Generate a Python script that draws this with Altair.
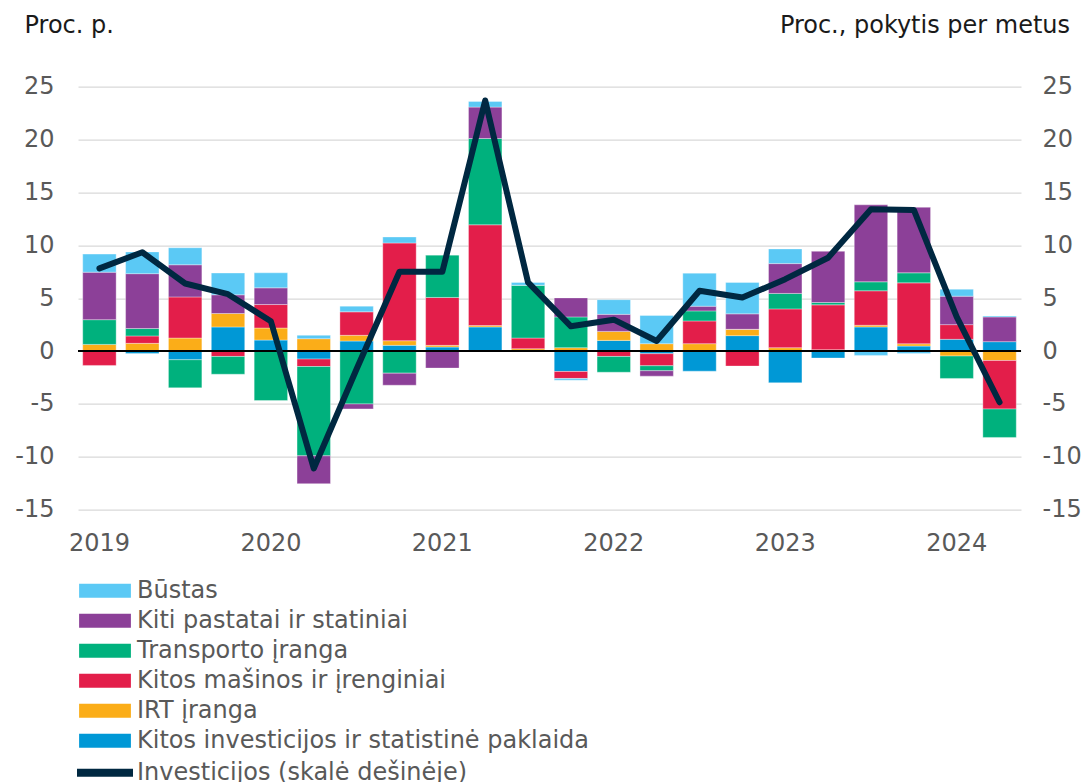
import altair as alt
import pandas as pd

quarters = ["2019Q1", "2019Q2", "2019Q3", "2019Q4",
            "2020Q1", "2020Q2", "2020Q3", "2020Q4",
            "2021Q1", "2021Q2", "2021Q3", "2021Q4",
            "2022Q1", "2022Q2", "2022Q3", "2022Q4",
            "2023Q1", "2023Q2", "2023Q3", "2023Q4",
            "2024Q1", "2024Q2"]

S_BUST = "Būstas"
S_KITI = "Kiti pastatai ir statiniai"
S_TRANS = "Transporto įranga"
S_MAS = "Kitos mašinos ir įrenginiai"
S_IRT = "IRT įranga"
S_INV = "Kitos investicijos ir statistinė paklaida"
S_LINE = "Investicijos (skalė dešinėje)"

kitos_investicijos = [0.0, -0.22, -0.82, 2.28, 1.04, -0.76, 0.95, 0.54, 0.38, 2.28, 0.0,
                      -1.93, 1.01, -0.25, -1.90, 1.46, -3.0, -0.66, 2.28, 0.47, 1.11, 0.89]
irt = [0.63, 0.73, 1.23, 1.27, 1.14, 1.17, 0.54, 0.44, 0.16, 0.13, 0.22,
       0.32, 0.85, 0.70, 0.70, 0.60, 0.32, 0.13, 0.16, 0.22, -0.47, -0.89]
masinos = [-1.36, 0.70, 3.89, -0.51, 2.22, -0.70, 2.22, 9.24, 4.53, 9.53, 1.01,
           -0.66, -0.51, -1.14, 2.15, -1.42, 3.67, 4.24, 3.26, 5.76, 1.39, -4.59]
transportas = [2.34, 0.70, -2.66, -1.68, -4.68, -8.45, -5.0, -2.09, 4.02, 8.16, 5.0,
               2.91, -1.49, -0.47, 0.95, 0.0, 1.46, 0.22, 0.85, 0.95, -2.12, -2.69]
kiti_pastatai = [4.49, 5.19, 3.04, 1.77, 1.58, -2.63, -0.47, -1.14, -1.61, 2.97, 0.0,
                 1.80, 1.61, -0.51, 0.44, 1.46, 2.82, 4.87, 7.28, 6.20, 2.69, 2.34]
bustas = [1.71, 2.06, 1.61, 2.06, 1.42, 0.32, 0.54, 0.57, 0.0, 0.54, 0.25,
          -0.16, 1.39, 2.66, 3.13, 2.97, 1.39, 0.0, -0.41, -0.22, 0.66, 0.09]
investicijos = [7.82, 9.34, 6.39, 5.38, 2.82, -11.1, -1.7, 7.5, 7.5, 23.7, 6.49,
                2.34, 2.97, 0.95, 5.70, 5.06, 6.80, 8.83, 13.42, 13.35, 3.23, -4.84]

legend_order = [S_BUST, S_KITI, S_TRANS, S_MAS, S_IRT, S_INV]
colors = ["#5bc9f5", "#8c4098", "#00b17d", "#e31e4a", "#fbad18", "#0098d6"]
stack_series = [(S_INV, kitos_investicijos), (S_IRT, irt), (S_MAS, masinos),
                (S_TRANS, transportas), (S_KITI, kiti_pastatai), (S_BUST, bustas)]

rows = []
for order_idx, (name, vals) in enumerate(stack_series):
    for q, v in zip(quarters, vals):
        rows.append({"q": q, "series": name, "value": v, "ord": order_idx})
bars_df = pd.DataFrame(rows)
line_df = pd.DataFrame({"q": quarters, "inv": investicijos, "name": [S_LINE] * len(quarters)})
zero_df = pd.DataFrame({"z": [0]})

FONT = "DejaVu Sans"
LABEL_COLOR = "#595959"
TITLE_COLOR = "#1a1a1a"
ydomain = [-15, 25]
yticks = [-15, -10, -5, 0, 5, 10, 15, 20, 25]

x_enc = alt.X(
    "q:N", sort=quarters,
    scale=alt.Scale(paddingInner=0.22, paddingOuter=0.11),
    axis=alt.Axis(
        title=None, ticks=False, domain=False, labelAngle=0, labelPadding=22,
        labelFontSize=24, labelColor=LABEL_COLOR, labelFont=FONT,
        labelExpr="substring(datum.value, 5, 6) == '1' ? substring(datum.value, 0, 4) : ''",
        grid=False,
    ),
)

bars = alt.Chart(bars_df).mark_bar(stroke="white", strokeWidth=0.5, strokeOpacity=0.7).encode(
    x=x_enc,
    y=alt.Y(
        "value:Q", stack="zero",
        scale=alt.Scale(domain=ydomain, nice=False, zero=False),
        axis=alt.Axis(
            values=yticks, grid=True, gridColor="#d9d9d9", gridWidth=1.3,
            ticks=False, domain=False, labelPadding=24, labelFontSize=24,
            labelColor=LABEL_COLOR, labelFont=FONT, labelExpr="toString(datum.value)",
            title="Proc. p.", titleAngle=0, titleAlign="left", titleBaseline="alphabetic",
            titleX=-54, titleY=-54.4, titleFontSize=24, titleFontWeight="normal",
            titleColor=TITLE_COLOR, titleFont=FONT,
        ),
    ),
    fill=alt.Fill(
        "series:N",
        scale=alt.Scale(domain=legend_order, range=colors),
        legend=alt.Legend(
            orient="none", legendX=15, legendY=492, direction="vertical", title=None,
            symbolType="M-3.7,-1H3.7V1H-3.7Z", symbolSize=196, symbolStrokeWidth=0,
            labelFontSize=24, labelColor=LABEL_COLOR, labelFont=FONT, labelOffset=20,
            rowPadding=6, padding=0, labelLimit=800,
        ),
    ),
    order=alt.Order("ord:Q", sort="ascending"),
)

zero_rule = alt.Chart(zero_df).mark_rule(color="#000000", strokeWidth=2).encode(
    y=alt.Y("z:Q", scale=alt.Scale(domain=ydomain, nice=False, zero=False), axis=None),
)

line = alt.Chart(line_df).mark_line(strokeWidth=6, strokeJoin="round", strokeCap="round").encode(
    x=alt.X("q:N", sort=quarters),
    y=alt.Y(
        "inv:Q",
        scale=alt.Scale(domain=ydomain, nice=False, zero=False),
        axis=alt.Axis(
            orient="right", values=yticks, grid=False, ticks=False, domain=False,
            labelPadding=21, labelFontSize=24, labelColor=LABEL_COLOR, labelFont=FONT,
            labelExpr="toString(datum.value)",
            title="Proc., pokytis per metus", titleAngle=0, titleAlign="right",
            titleBaseline="alphabetic", titleX=48.5, titleY=-54.4, titleFontSize=24,
            titleFontWeight="normal", titleColor=TITLE_COLOR, titleFont=FONT,
        ),
    ),
    stroke=alt.Stroke(
        "name:N",
        scale=alt.Scale(domain=[S_LINE], range=["#002841"]),
        legend=alt.Legend(
            orient="none", legendX=-5, legendY=654, title=None,
            symbolType="stroke", symbolSize=3136, symbolStrokeWidth=8,
            labelFontSize=24, labelColor=LABEL_COLOR, labelFont=FONT, labelOffset=0,
            padding=0, labelLimit=800,
        ),
    ),
)

chart = alt.layer(bars, zero_rule, line).resolve_scale(
    y="independent", fill="independent", stroke="independent"
).properties(
    width=943, height=423,
    autosize=alt.AutoSizeParams(type="none"),
    padding={"left": 70, "top": 78.7, "right": 60, "bottom": 272},
).configure(font=FONT).configure_view(stroke=None)

chart.save("out.html", embed_options={"renderer": "svg", "actions": False})
